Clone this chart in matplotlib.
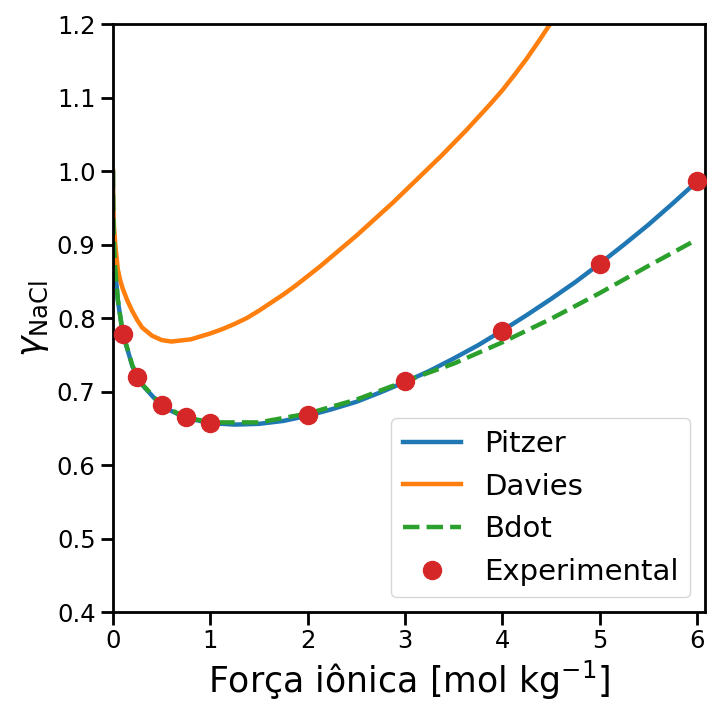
import matplotlib.pyplot as plt

# ionic strength grids and activity coefficients for each model
I_pitzer = [0, 0.001, 0.005, 0.01, 0.02, 0.05, 0.1, 0.2, 0.3, 0.5, 0.75, 1.0,
            1.25, 1.5, 1.75, 2.0, 2.25, 2.5, 2.75, 3.0, 3.25, 3.5, 3.75, 4.0,
            4.25, 4.5, 4.75, 5.0, 5.25, 5.5, 5.75, 6.0]
g_pitzer = [1.0, 0.965, 0.927, 0.902, 0.871, 0.824, 0.779, 0.734, 0.709, 0.680,
            0.664, 0.657, 0.655, 0.656, 0.660, 0.667, 0.676, 0.686, 0.699, 0.713,
            0.728, 0.745, 0.763, 0.783, 0.804, 0.826, 0.849, 0.874, 0.900, 0.927,
            0.956, 0.986]

I_davies = [0, 0.001, 0.005, 0.01, 0.025, 0.05, 0.075, 0.1, 0.15, 0.2, 0.25,
            0.3, 0.4, 0.5, 0.6, 0.8, 1.0, 1.125, 1.25, 1.375, 1.5, 1.625, 1.75,
            1.875, 2.0, 2.125, 2.25, 2.375, 2.5, 2.625, 2.75, 2.875, 3.0, 3.125,
            3.25, 3.375, 3.5, 3.625, 3.75, 3.875, 4.0, 4.125, 4.25, 4.375, 4.5,
            4.75]
g_davies = [1.0, 0.972, 0.944, 0.926, 0.898, 0.866, 0.851, 0.840, 0.823, 0.809,
            0.797, 0.787, 0.776, 0.770, 0.768, 0.771, 0.779, 0.785, 0.792, 0.800,
            0.810, 0.821, 0.832, 0.844, 0.857, 0.870, 0.884, 0.898, 0.912, 0.927,
            0.942, 0.957, 0.973, 0.989, 1.005, 1.021, 1.038, 1.055, 1.073, 1.091,
            1.110, 1.131, 1.153, 1.177, 1.202, 1.255]

I_bdot = [0, 0.001, 0.005, 0.01, 0.02, 0.05, 0.1, 0.2, 0.3, 0.5, 0.75, 1.0,
          1.5, 2.0, 2.5, 3.0, 3.5, 4.0, 4.5, 5.0, 5.5, 6.0]
g_bdot = [1.0, 0.968, 0.932, 0.906, 0.873, 0.825, 0.780, 0.735, 0.710, 0.681,
          0.665, 0.658, 0.658, 0.670, 0.689, 0.714, 0.738, 0.767, 0.799, 0.834,
          0.871, 0.907]

# experimental data for NaCl
I_exp = [0.1, 0.25, 0.5, 0.75, 1.0, 2.0, 3.0, 4.0, 5.0, 6.0]
g_exp = [0.778, 0.720, 0.681, 0.666, 0.657, 0.668, 0.714, 0.783, 0.874, 0.986]

fig = plt.figure(figsize=(7.07, 7.06), dpi=100)
ax = fig.add_axes([0.1598, 0.1331, 0.8373, 0.8329])

ax.plot(I_pitzer, g_pitzer, color='C0', lw=3.2, label='Pitzer')
ax.plot(I_davies, g_davies, color='C1', lw=3.2, label='Davies')
ax.plot(I_bdot, g_bdot, color='C2', lw=3.2, ls='--', label='Bdot')
ax.plot(I_exp, g_exp, 'o', color='C3', ms=13, label='Experimental', clip_on=False, zorder=5)

ax.set_xlim(0, 6.08)
ax.set_ylim(0.4, 1.2)
ax.set_xticks(range(7))
ax.set_yticks([0.4, 0.5, 0.6, 0.7, 0.8, 0.9, 1.0, 1.1, 1.2])
ax.tick_params(labelsize=17.5, length=9, width=2)
for sp in ax.spines.values():
    sp.set_linewidth(2)

ax.set_xlabel(r'Força iônica [mol kg$^{-1}$]', fontsize=25)
ax.set_ylabel(r'$\gamma_{\rm NaCl}$', fontsize=25)
ax.legend(loc='lower right', fontsize=21, handlelength=2.0)

plt.savefig('out.png', dpi=100)
